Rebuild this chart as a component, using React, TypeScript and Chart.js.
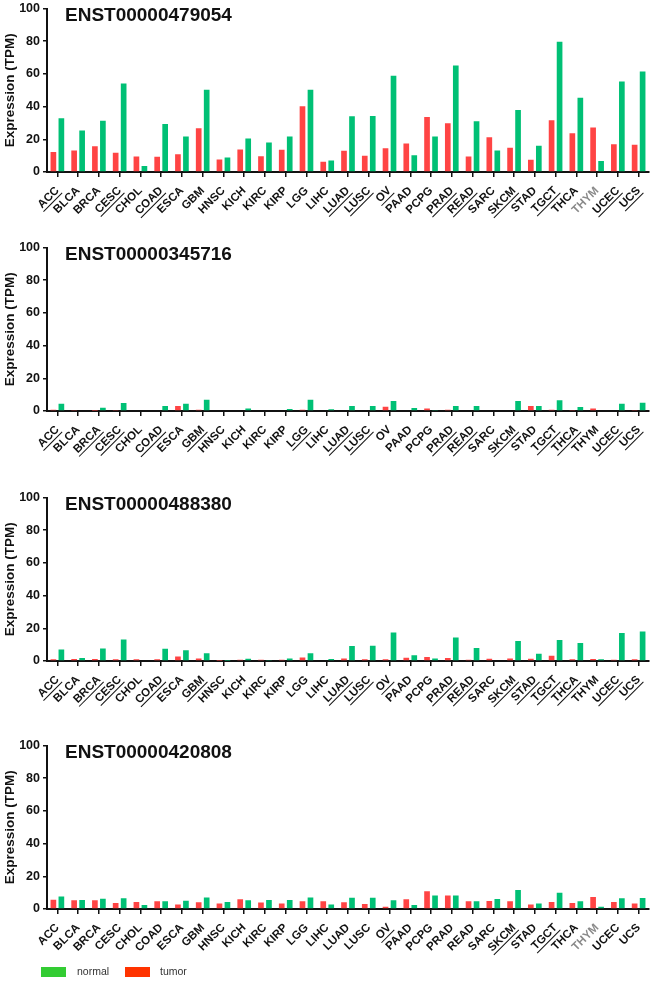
import React, { useEffect, useRef } from "react";
import { Chart, registerables } from "chart.js";

Chart.register(...registerables);

// ---------- data ----------
const categories = ["ACC","BLCA","BRCA","CESC","CHOL","COAD","ESCA","GBM","HNSC","KICH","KIRC","KIRP","LGG","LIHC","LUAD","LUSC","OV","PAAD","PCPG","PRAD","READ","SARC","SKCM","STAD","TGCT","THCA","THYM","UCEC","UCS"];
const yTicks = [0, 20, 40, 60, 80, 100];

const title1 = "ENST00000479054";
const tumor1 = [12.2,13.2,15.8,11.8,9.5,9.3,10.8,26.8,7.7,13.8,9.7,13.6,40.2,6.3,13.0,9.9,14.6,17.4,33.7,29.8,9.5,21.3,14.8,7.5,31.6,23.7,27.2,17.0,16.6];
const normal1 = [32.9,25.4,31.4,54.2,3.7,29.4,21.7,50.3,8.9,20.5,18.1,21.7,50.3,7.1,34.1,34.3,58.8,10.3,21.7,65.1,31.0,13.2,37.9,16.0,79.7,45.4,6.7,55.4,61.5];
const underlined1 = ["ACC","CESC","COAD","LUAD","LUSC","OV","PRAD","READ","SKCM","TGCT","UCEC","UCS"];
const grey1 = ["THYM"];

const title2 = "ENST00000345716";
const tumor2 = [0.8,0.3,0.2,0.3,0.5,0,3.0,0.8,0,0,0,0,0.7,0,0,0,2.6,0.5,1.6,0.8,0,0.4,0,3.0,0.7,0.6,1.6,0,0.6];
const normal2 = [4.5,0.5,2.0,4.9,0,3.0,4.5,6.9,0,1.6,0,1.2,6.9,1.0,3.0,3.0,6.1,1.8,0.3,3.0,3.0,0,6.1,3.0,6.5,2.4,0.4,4.5,5.1];
const underlined2 = ["ACC","BRCA","CESC","COAD","GBM","LGG","LUAD","LUSC","PRAD","READ","SKCM","TGCT","THCA","UCEC","UCS"];
const grey2: string[] = [];

const title3 = "ENST00000488380";
const tumor3 = [1.0,1.2,1.2,1.0,1.0,1.0,2.8,1.6,0.2,0.8,0.8,0.8,2.2,0,1.6,1.0,1.0,2.0,2.4,1.8,0.8,1.4,1.6,1.4,3.2,1.0,1.2,0.8,1.0];
const normal3 = [7.1,1.8,7.7,13.2,0,7.5,6.5,4.7,0.2,1.4,0.6,1.6,4.7,1.2,9.1,9.3,17.5,3.5,1.6,14.4,7.9,0,12.2,4.5,12.8,11.0,1.0,17.1,18.1];
const underlined3 = ["ACC","BRCA","CESC","COAD","GBM","LUAD","LUSC","OV","PRAD","READ","SKCM","STAD","TGCT","THCA","UCEC","UCS"];
const grey3: string[] = [];

const title4 = "ENST00000420808";
const tumor4 = [5.7,5.3,5.3,3.7,4.3,4.7,2.8,4.1,3.4,5.9,3.9,3.4,4.7,4.7,4.1,3.0,1.4,5.9,10.8,8.3,4.7,4.9,4.7,2.8,4.3,3.7,7.3,4.3,3.4];
const normal4 = [7.7,5.5,6.3,6.5,2.4,4.7,5.1,7.1,4.3,5.3,5.5,5.5,7.1,2.8,6.9,6.9,5.3,2.4,8.3,8.3,4.7,6.1,11.6,3.4,9.9,4.7,1.4,6.5,6.7];
const underlined4 = ["OV","SKCM","TGCT"];
const grey4 = ["THYM"];

const legendLabels = ["normal", "tumor"];

// ---------- style ----------
const FONT = '"Liberation Sans", Arial, Helvetica, sans-serif';
const RED = "#FF4444";
const GREEN = "#00C075";
const TEXT = "#111111";
const GREY = "#8a8a8a";
const PAD_TOP = 10;
const PLOT_H = 164;
const XH = 58;
const CANVAS_H = PAD_TOP + PLOT_H + XH;
const panelTops = [8, 246.7, 496.7, 745.3];

Chart.defaults.font.family = FONT;

type PanelProps = {
  title: string;
  tumor: number[];
  normal: number[];
  underlined: string[];
  grey: string[];
  top: number;
};

function Panel({ title, tumor, normal, underlined, grey, top }: PanelProps) {
  const ref = useRef<HTMLCanvasElement>(null);
  useEffect(() => {
    const deco = {
      id: "deco",
      afterDraw(chart: any) {
        const ctx = chart.ctx;
        const area = chart.chartArea;
        ctx.save();
        ctx.font = `bold 19px ${FONT}`;
        ctx.fillStyle = TEXT;
        ctx.textAlign = "left";
        ctx.textBaseline = "alphabetic";
        ctx.fillText(title, area.left + 18, area.top + 12);
        ctx.restore();

        const xs = chart.scales.x;
        const items = xs.getLabelItems(area);
        items.forEach((it: any, i: number) => {
          const lab = categories[i];
          if (!underlined.includes(lab)) return;
          const o = it.options;
          ctx.save();
          ctx.translate(o.translation[0], o.translation[1]);
          ctx.rotate(o.rotation);
          ctx.font = it.font.string;
          const w = ctx.measureText(String(it.label)).width;
          const y = it.textOffset + it.font.size * 0.5 + 0.5;
          ctx.strokeStyle = typeof o.color === "string" ? o.color : TEXT;
          ctx.lineWidth = 1;
          ctx.beginPath();
          ctx.moveTo(-w - 1, y);
          ctx.lineTo(0.5, y);
          ctx.stroke();
          ctx.restore();
        });
      },
    };

    const chart = new Chart(ref.current!, {
      type: "bar",
      data: {
        labels: categories,
        datasets: [
          { label: "tumor", data: tumor, backgroundColor: RED, borderWidth: 0, categoryPercentage: 0.77, barPercentage: 0.71 },
          { label: "normal", data: normal, backgroundColor: GREEN, borderWidth: 0, categoryPercentage: 0.77, barPercentage: 0.71 },
        ],
      },
      options: {
        animation: false,
        responsive: false,
        maintainAspectRatio: false,
        layout: { padding: { top: PAD_TOP, right: 8, left: 0, bottom: 0 } },
        plugins: { legend: { display: false }, tooltip: { enabled: false }, title: { display: false } },
        scales: {
          x: {
            offset: true,
            grid: { drawOnChartArea: false, offset: false, drawTicks: true, tickLength: 5, color: TEXT, lineWidth: 1.5 },
            border: { display: true, color: TEXT, width: 2 },
            ticks: {
              autoSkip: false,
              minRotation: 45,
              maxRotation: 45,
              padding: 7,
              font: { size: 11.5, weight: "bold" },
              color: (c: any) => (grey.includes(categories[c.index]) ? GREY : TEXT),
            },
            afterFit: (s: any) => { s.height = XH; },
          },
          y: {
            min: 0,
            max: 100,
            afterBuildTicks: (s: any) => { s.ticks = yTicks.map((v) => ({ value: v })); },
            ticks: { padding: 3, font: { size: 12.5, weight: "bold" }, color: TEXT },
            grid: { drawOnChartArea: false, drawTicks: true, tickLength: 4, color: TEXT, lineWidth: 1.5 },
            border: { display: true, color: TEXT, width: 2 },
            title: { display: true, text: "Expression (TPM)", font: { size: 13.5, weight: "bold" }, color: TEXT, padding: { top: 2, bottom: 0 } },
            afterFit: (s: any) => { s.width = 47; },
          },
        },
      } as any,
      plugins: [deco],
    });
    return () => chart.destroy();
  }, []);
  return (
    <canvas
      ref={ref}
      width={657}
      height={CANVAS_H}
      style={{ position: "absolute", left: 0, top: top - PAD_TOP, width: 657, height: CANVAS_H }}
    />
  );
}

export default function App() {
  return (
    <div style={{ position: "absolute", left: 0, top: 0, width: 657, height: 981, background: "#fff", overflow: "hidden" }}>
      <Panel title={title1} tumor={tumor1} normal={normal1} underlined={underlined1} grey={grey1} top={panelTops[0]} />
      <Panel title={title2} tumor={tumor2} normal={normal2} underlined={underlined2} grey={grey2} top={panelTops[1]} />
      <Panel title={title3} tumor={tumor3} normal={normal3} underlined={underlined3} grey={grey3} top={panelTops[2]} />
      <Panel title={title4} tumor={tumor4} normal={normal4} underlined={underlined4} grey={grey4} top={panelTops[3]} />
      <div style={{ position: "absolute", left: 41, top: 967, width: 25, height: 10, background: "#33CC33" }} />
      <div style={{ position: "absolute", left: 77, top: 964, fontFamily: FONT, fontSize: 10.5, color: "#333", lineHeight: "14px" }}>{legendLabels[0]}</div>
      <div style={{ position: "absolute", left: 125, top: 967, width: 25, height: 10, background: "#FF3300" }} />
      <div style={{ position: "absolute", left: 160, top: 964, fontFamily: FONT, fontSize: 10.5, color: "#333", lineHeight: "14px" }}>{legendLabels[1]}</div>
    </div>
  );
}
